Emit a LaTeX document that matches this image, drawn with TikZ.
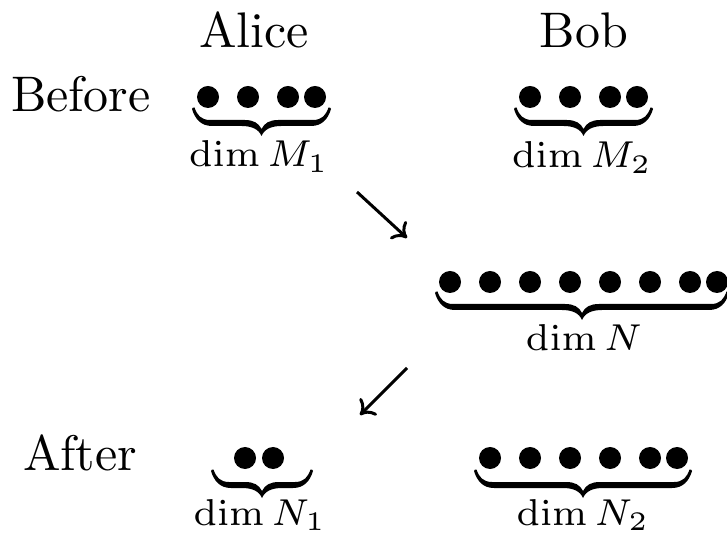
\documentclass[tikz,border=0pt]{standalone}
\usetikzlibrary{arrows.meta}
\begin{document}
\begin{tikzpicture}[x=0.2pt,y=-0.2pt,
  dot/.style={circle,fill=black,inner sep=0pt,minimum size=4.4pt},
  txt/.style={inner sep=0pt,anchor=base},
  lab/.style={inner sep=0pt,anchor=base,font=\scriptsize,scale=1.07},
  flow/.style={-{To[length=2.6pt,width=4.8pt]},line width=0.6pt},
  % filled curly under-brace, origin at the centre of the top edge, #1 = half width
  pics/ubrace/.style={code={
    \fill (-#1+1.5,-0.5)
      .. controls (-#1+4,7) and (-#1+8,12) .. (-#1+17,12)
      -- (-17,12)
      .. controls (-8,12) and (-3,15) .. (0,21)
      .. controls (3,15) and (8,12) .. (17,12)
      -- (#1-17,12)
      .. controls (#1-8,12) and (#1-4,7) .. (#1-1.5,-0.5)
      .. controls (#1-0.5,-1) and (#1+1,0) .. (#1+1,1)
      .. controls (#1-2,11) and (#1-8,18) .. (#1-19,18)
      -- (20,18)
      .. controls (10,18) and (3,21) .. (0,28)
      .. controls (-3,21) and (-10,18) .. (-20,18)
      -- (-#1+19,18)
      .. controls (-#1+8,18) and (-#1+2,11) .. (-#1-1,1)
      .. controls (-#1-1,0) and (-#1+0.5,-1) .. (-#1+1.5,-0.5) -- cycle;
  }}]
\useasboundingbox (0,0) rectangle (727,541);

% column headings and row labels
\node[txt] (alice) at (254,48) {Alice};
\node[txt] (bob) at (584,48) {Bob};
\node[txt,anchor=base west] (before) at (10,112) {Before};
\node[txt,anchor=base west] (after) at (22,470) {After};

% Alice before: M_1
\foreach \i/\x in {1/208,2/248,3/288,4/315}
  \node[dot] (a\i) at (\x,97) {};
\pic at (261.5,108) {ubrace=68.5};
\node[lab] (la) at (259,167) {$\dim M_1$};

% Bob before: M_2
\foreach \i/\x in {1/530,2/570,3/610,4/637}
  \node[dot] (b\i) at (\x,97) {};
\pic at (583.5,108) {ubrace=68.5};
\node[lab] (lb) at (582,168) {$\dim M_2$};

% joint system: N
\foreach \i/\x in {1/450,2/490,3/530,4/570,5/610,6/650,7/690,8/717}
  \node[dot] (n\i) at (\x,282) {};
\pic at (582,292) {ubrace=146};
\node[lab] (ln) at (584,351) {$\dim N$};

% Alice after: N_1
\foreach \i/\x in {1/245,2/273}
  \node[dot] (c\i) at (\x,458) {};
\pic at (262,470) {ubrace=50};
\node[lab] (lc) at (260,525) {$\dim N_1$};

% Bob after: N_2
\foreach \i/\x in {1/490,2/530,3/570,4/610,5/650,6/677}
  \node[dot] (d\i) at (\x,458) {};
\pic at (583,470) {ubrace=108};
\node[lab] (ld) at (583,525) {$\dim N_2$};

% transitions
\coordinate (p1) at (357,192);
\coordinate (q1) at (407,238);
\coordinate (p2) at (407,368);
\coordinate (q2) at (360,415);
\draw[flow] (p1) -- (q1);
\draw[flow] (p2) -- (q2);
\end{tikzpicture}
\end{document}
